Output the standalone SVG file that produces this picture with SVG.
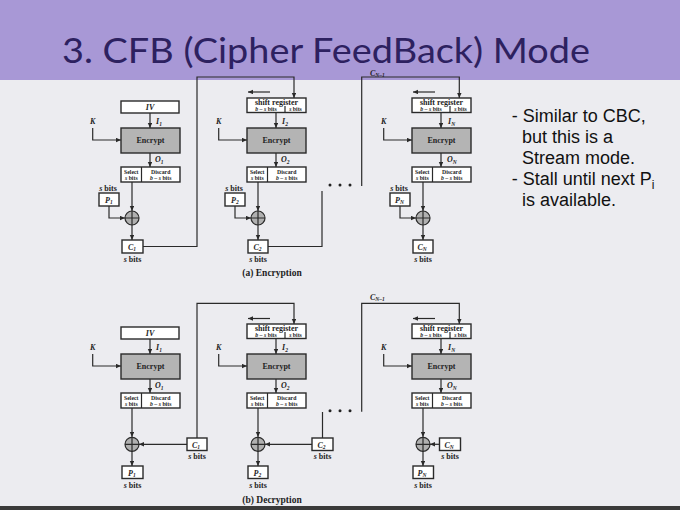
<svg xmlns="http://www.w3.org/2000/svg" width="680" height="510" viewBox="0 0 680 510">
<defs>
<marker id="ah" markerUnits="userSpaceOnUse" markerWidth="6" markerHeight="6" refX="5" refY="2.2" orient="auto"><path d="M0,0 L5,2.2 L0,4.4 z" fill="#2a2a2a"/></marker>
</defs>
<style>
.ln{stroke:#2a2a2a;stroke-width:1.2;fill:none}
.ar{stroke:#2a2a2a;stroke-width:1.2;fill:none;marker-end:url(#ah)}
.bx{fill:#fff;stroke:#2a2a2a;stroke-width:1.4}
.enc{fill:#b4b4b4;stroke:#2a2a2a;stroke-width:1.4}
.xor{fill:#b0b0b0;stroke:#2a2a2a;stroke-width:1.2}
.t{font-family:"Liberation Serif",serif;font-weight:bold;fill:#1e1e1e;text-anchor:middle}
.s8{font-size:8px}
.s6{font-size:5.8px}
.it{font-style:italic}
.lab{font-family:"Liberation Serif",serif;font-weight:bold;font-style:italic;fill:#1e1e1e;font-size:8px}
.sub{font-size:5.5px}
.cap{font-family:"Liberation Serif",serif;font-weight:bold;fill:#1e1e1e;font-size:9.5px;text-anchor:middle}
.rt{font-family:"Liberation Sans",Arial,sans-serif;font-size:18px;fill:#111}
.dot{fill:#222}
</style>
<rect x="0" y="0" width="680" height="80" fill="#a898d6"/>
<rect x="0" y="80" width="680" height="430" fill="#ececf0"/>
<rect x="0" y="506" width="680" height="4" fill="#3a3a3a"/>
<text x="62" y="63" font-family="Lato,'Open Sans',sans-serif" font-size="35" fill="#2d2160" textLength="528" lengthAdjust="spacingAndGlyphs">3. CFB (Cipher FeedBack) Mode</text>

<g id="connectors">
<!-- Encryption -->
<path class="ar" d="M150,113 V128"/>
<path class="ar" d="M92.7,128 V140 H121"/>
<path class="ar" d="M150,153 V167"/>
<path class="ar" d="M132,182 V211"/>
<path class="ar" d="M109,206 V218 H125"/>
<path class="ar" d="M132,225 V240"/>
<path class="ar" d="M143,246.5 H197 V77 H294 V98"/>
<path class="ar" d="M270,92 H248"/>
<path class="ar" d="M276,112.5 V128"/>
<path class="ar" d="M218.7,128 V140 H247"/>
<path class="ar" d="M276,153 V167"/>
<path class="ar" d="M258,182 V211"/>
<path class="ar" d="M235,206 V218 H251"/>
<path class="ar" d="M258,225 V240"/>
<path class="ln" d="M268,246.5 H322 V191"/>
<path class="ar" d="M361.7,186 V77 H459.3 V98"/>
<path class="ar" d="M435,92 H413"/>
<path class="ar" d="M441,112.5 V128"/>
<path class="ar" d="M383.7,128 V140 H412"/>
<path class="ar" d="M441,153 V167"/>
<path class="ar" d="M423,182 V211"/>
<path class="ar" d="M400,206 V218 H416"/>
<path class="ar" d="M423,225 V240"/>
<!-- Decryption -->
<path class="ar" d="M150,339 V354"/>
<path class="ar" d="M92.7,354 V366 H121"/>
<path class="ar" d="M150,379 V393"/>
<path class="ar" d="M132,408 V437"/>
<path class="ar" d="M187,444.3 H139"/>
<path class="ar" d="M132,451 V466"/>
<path class="ar" d="M197,438 V303.3 H294 V324"/>
<path class="ar" d="M270,318.5 H248"/>
<path class="ar" d="M276,338.5 V354"/>
<path class="ar" d="M218.7,354 V366 H247"/>
<path class="ar" d="M276,379 V393"/>
<path class="ar" d="M258,408 V437"/>
<path class="ar" d="M312,444.3 H265"/>
<path class="ar" d="M258,451 V466"/>
<path class="ln" d="M322.5,438 V412"/>
<path class="ar" d="M361.7,411.7 V303.3 H459.3 V324"/>
<path class="ar" d="M435,318.5 H413"/>
<path class="ar" d="M441,338.5 V354"/>
<path class="ar" d="M383.7,354 V366 H412"/>
<path class="ar" d="M441,379 V393"/>
<path class="ar" d="M423,408 V437"/>
<path class="ar" d="M439.5,444.3 H430"/>
<path class="ar" d="M423,451 V466"/>
</g>

<!-- dots -->
<g id="dots-enc"><circle class="dot" cx="330" cy="185" r="1.5"/><circle class="dot" cx="340" cy="185" r="1.5"/><circle class="dot" cx="350" cy="185" r="1.5"/></g>
<g id="dots-dec"><circle class="dot" cx="330" cy="410.7" r="1.5"/><circle class="dot" cx="340" cy="410.7" r="1.5"/><circle class="dot" cx="350" cy="410.7" r="1.5"/></g>

<!-- ===== Encryption ===== -->
<g id="e-iv"><rect class="bx" x="121" y="101" width="58" height="12"/><text class="t s8 it" x="150" y="110">IV</text></g>
<g id="e-k1"><text class="lab" x="92.7" y="124" text-anchor="middle">K</text></g>
<g id="e-i1"><text class="lab" x="156" y="124">I<tspan class="sub" dy="1.5">1</tspan></text></g>
<g id="e-enc1"><rect class="enc" x="121" y="128" width="59" height="25"/><text class="t s8" x="150.5" y="143">Encrypt</text></g>
<g id="e-o1"><text class="lab" x="155" y="162">O<tspan class="sub" dy="1.5">1</tspan></text></g>
<g id="e-sel1"><rect class="bx" x="121" y="167" width="59" height="15"/><line class="ln" x1="141.5" y1="167" x2="141.5" y2="182"/>
<text class="t s6" x="131.3" y="173.5">Select</text><text class="t s6" x="131.3" y="180"><tspan class="it">s</tspan> bits</text>
<text class="t s6" x="160.7" y="173.5">Discard</text><text class="t s6" x="160.7" y="180"><tspan class="it">b</tspan> – <tspan class="it">s</tspan> bits</text></g>
<g id="e-p1"><text class="t s8" x="108" y="190.5"><tspan class="it">s</tspan> bits</text><rect class="bx" x="99" y="193" width="20" height="13"/><text class="lab" x="105" y="202.5">P<tspan class="sub" dy="1.5">1</tspan></text></g>
<g id="e-x1"><circle class="xor" cx="132" cy="218" r="7"/><path class="ln" d="M125,218 H139 M132,211 V225"/></g>
<g id="e-c1"><rect class="bx" x="122" y="240" width="21" height="13"/><text class="lab" x="128" y="249.5">C<tspan class="sub" dy="1.5">1</tspan></text><text class="t s8" x="132.5" y="262"><tspan class="it">s</tspan> bits</text></g>

<g id="e-sr2"><rect class="bx" x="247" y="98" width="59" height="14.5"/><line class="ln" x1="285" y1="106" x2="285" y2="112.5"/>
<text class="t s8" x="276.5" y="104.8">shift register</text><text class="t s6" x="266" y="111.3"><tspan class="it">b</tspan> – <tspan class="it">s</tspan> bits</text><text class="t s6" x="295.5" y="111.3"><tspan class="it">s</tspan> bits</text></g>
<g id="e-k2"><text class="lab" x="218.7" y="124" text-anchor="middle">K</text></g>
<g id="e-i2"><text class="lab" x="282" y="124">I<tspan class="sub" dy="1.5">2</tspan></text></g>
<g id="e-enc2"><rect class="enc" x="247" y="128" width="59" height="25"/><text class="t s8" x="276.5" y="143">Encrypt</text></g>
<g id="e-o2"><text class="lab" x="281" y="162">O<tspan class="sub" dy="1.5">2</tspan></text></g>
<g id="e-sel2"><rect class="bx" x="247" y="167" width="59" height="15"/><line class="ln" x1="267.5" y1="167" x2="267.5" y2="182"/>
<text class="t s6" x="257.3" y="173.5">Select</text><text class="t s6" x="257.3" y="180"><tspan class="it">s</tspan> bits</text>
<text class="t s6" x="286.7" y="173.5">Discard</text><text class="t s6" x="286.7" y="180"><tspan class="it">b</tspan> – <tspan class="it">s</tspan> bits</text></g>
<g id="e-p2"><text class="t s8" x="234" y="190.5"><tspan class="it">s</tspan> bits</text><rect class="bx" x="225" y="193" width="20" height="13"/><text class="lab" x="231" y="202.5">P<tspan class="sub" dy="1.5">2</tspan></text></g>
<g id="e-x2"><circle class="xor" cx="258" cy="218" r="7"/><path class="ln" d="M251,218 H265 M258,211 V225"/></g>
<g id="e-c2"><rect class="bx" x="248" y="240" width="20" height="13"/><text class="lab" x="253.5" y="249.5">C<tspan class="sub" dy="1.5">2</tspan></text><text class="t s8" x="258" y="262"><tspan class="it">s</tspan> bits</text></g>
<g id="e-cn1"><text class="lab" x="370" y="75.5" font-size="6.5">C<tspan class="sub" dy="1" font-size="4.5">N–1</tspan></text></g>

<g id="e-sr3"><rect class="bx" x="412" y="98" width="59" height="14.5"/><line class="ln" x1="450" y1="106" x2="450" y2="112.5"/>
<text class="t s8" x="441.5" y="104.8">shift register</text><text class="t s6" x="431" y="111.3"><tspan class="it">b</tspan> – <tspan class="it">s</tspan> bits</text><text class="t s6" x="460.5" y="111.3"><tspan class="it">s</tspan> bits</text></g>
<g id="e-k3"><text class="lab" x="383.7" y="124" text-anchor="middle">K</text></g>
<g id="e-in"><text class="lab" x="448" y="124">I<tspan class="sub" dy="1.5">N</tspan></text></g>
<g id="e-enc3"><rect class="enc" x="412" y="128" width="59" height="25"/><text class="t s8" x="441.5" y="143">Encrypt</text></g>
<g id="e-on"><text class="lab" x="447" y="162">O<tspan class="sub" dy="1.5">N</tspan></text></g>
<g id="e-sel3"><rect class="bx" x="412" y="167" width="59" height="15"/><line class="ln" x1="432.5" y1="167" x2="432.5" y2="182"/>
<text class="t s6" x="422.3" y="173.5">Select</text><text class="t s6" x="422.3" y="180"><tspan class="it">s</tspan> bits</text>
<text class="t s6" x="451.7" y="173.5">Discard</text><text class="t s6" x="451.7" y="180"><tspan class="it">b</tspan> – <tspan class="it">s</tspan> bits</text></g>
<g id="e-pn"><text class="t s8" x="399" y="190.5"><tspan class="it">s</tspan> bits</text><rect class="bx" x="390" y="193" width="20" height="13"/><text class="lab" x="395" y="202.5">P<tspan class="sub" dy="1.5">N</tspan></text></g>
<g id="e-x3"><circle class="xor" cx="423" cy="218" r="7"/><path class="ln" d="M416,218 H430 M423,211 V225"/></g>
<g id="e-cn"><rect class="bx" x="413" y="240" width="20" height="13"/><text class="lab" x="417.5" y="249.5">C<tspan class="sub" dy="1.5">N</tspan></text><text class="t s8" x="423" y="262"><tspan class="it">s</tspan> bits</text></g>
<g id="cap-a"><text class="cap" x="272" y="276">(a) Encryption</text></g>

<!-- ===== Decryption ===== -->
<g id="d-iv"><rect class="bx" x="121" y="327" width="58" height="12"/><text class="t s8 it" x="150" y="336">IV</text></g>
<g id="d-k1"><text class="lab" x="92.7" y="350" text-anchor="middle">K</text></g>
<g id="d-i1"><text class="lab" x="156" y="350">I<tspan class="sub" dy="1.5">1</tspan></text></g>
<g id="d-enc1"><rect class="enc" x="121" y="354" width="59" height="25"/><text class="t s8" x="150.5" y="369">Encrypt</text></g>
<g id="d-o1"><text class="lab" x="155" y="388">O<tspan class="sub" dy="1.5">1</tspan></text></g>
<g id="d-sel1"><rect class="bx" x="121" y="393" width="59" height="15"/><line class="ln" x1="141.5" y1="393" x2="141.5" y2="408"/>
<text class="t s6" x="131.3" y="399.5">Select</text><text class="t s6" x="131.3" y="406"><tspan class="it">s</tspan> bits</text>
<text class="t s6" x="160.7" y="399.5">Discard</text><text class="t s6" x="160.7" y="406"><tspan class="it">b</tspan> – <tspan class="it">s</tspan> bits</text></g>
<g id="d-x1"><circle class="xor" cx="132" cy="444.3" r="7"/><path class="ln" d="M125,444.3 H139 M132,437.3 V451.3"/></g>
<g id="d-c1"><rect class="bx" x="187" y="438" width="20" height="12.5"/><text class="lab" x="192" y="447.5">C<tspan class="sub" dy="1.5">1</tspan></text><text class="t s8" x="197" y="459"><tspan class="it">s</tspan> bits</text></g>
<g id="d-p1"><rect class="bx" x="122" y="466" width="21" height="12.5"/><text class="lab" x="128" y="475.5">P<tspan class="sub" dy="1.5">1</tspan></text><text class="t s8" x="132.5" y="488"><tspan class="it">s</tspan> bits</text></g>

<g id="d-sr2"><rect class="bx" x="247" y="324" width="59" height="14.5"/><line class="ln" x1="285" y1="332" x2="285" y2="338.5"/>
<text class="t s8" x="276.5" y="330.8">shift register</text><text class="t s6" x="266" y="337.3"><tspan class="it">b</tspan> – <tspan class="it">s</tspan> bits</text><text class="t s6" x="295.5" y="337.3"><tspan class="it">s</tspan> bits</text></g>
<g id="d-k2"><text class="lab" x="218.7" y="350" text-anchor="middle">K</text></g>
<g id="d-i2"><text class="lab" x="282" y="350">I<tspan class="sub" dy="1.5">2</tspan></text></g>
<g id="d-enc2"><rect class="enc" x="247" y="354" width="59" height="25"/><text class="t s8" x="276.5" y="369">Encrypt</text></g>
<g id="d-o2"><text class="lab" x="281" y="388">O<tspan class="sub" dy="1.5">2</tspan></text></g>
<g id="d-sel2"><rect class="bx" x="247" y="393" width="59" height="15"/><line class="ln" x1="267.5" y1="393" x2="267.5" y2="408"/>
<text class="t s6" x="257.3" y="399.5">Select</text><text class="t s6" x="257.3" y="406"><tspan class="it">s</tspan> bits</text>
<text class="t s6" x="286.7" y="399.5">Discard</text><text class="t s6" x="286.7" y="406"><tspan class="it">b</tspan> – <tspan class="it">s</tspan> bits</text></g>
<g id="d-x2"><circle class="xor" cx="258" cy="444.3" r="7"/><path class="ln" d="M251,444.3 H265 M258,437.3 V451.3"/></g>
<g id="d-c2"><rect class="bx" x="312" y="438" width="21" height="12.5"/><text class="lab" x="317.5" y="447.5">C<tspan class="sub" dy="1.5">2</tspan></text><text class="t s8" x="322.5" y="459"><tspan class="it">s</tspan> bits</text></g>
<g id="d-p2"><rect class="bx" x="248" y="466" width="20" height="12.5"/><text class="lab" x="253.5" y="475.5">P<tspan class="sub" dy="1.5">2</tspan></text><text class="t s8" x="258" y="488"><tspan class="it">s</tspan> bits</text></g>
<g id="d-cn1"><text class="lab" x="370" y="300" font-size="6.5">C<tspan class="sub" dy="1" font-size="4.5">N–1</tspan></text></g>

<g id="d-sr3"><rect class="bx" x="412" y="324" width="59" height="14.5"/><line class="ln" x1="450" y1="332" x2="450" y2="338.5"/>
<text class="t s8" x="441.5" y="330.8">shift register</text><text class="t s6" x="431" y="337.3"><tspan class="it">b</tspan> – <tspan class="it">s</tspan> bits</text><text class="t s6" x="460.5" y="337.3"><tspan class="it">s</tspan> bits</text></g>
<g id="d-k3"><text class="lab" x="383.7" y="350" text-anchor="middle">K</text></g>
<g id="d-in"><text class="lab" x="448" y="350">I<tspan class="sub" dy="1.5">N</tspan></text></g>
<g id="d-enc3"><rect class="enc" x="412" y="354" width="59" height="25"/><text class="t s8" x="441.5" y="369">Encrypt</text></g>
<g id="d-on"><text class="lab" x="447" y="388">O<tspan class="sub" dy="1.5">N</tspan></text></g>
<g id="d-sel3"><rect class="bx" x="412" y="393" width="59" height="15"/><line class="ln" x1="432.5" y1="393" x2="432.5" y2="408"/>
<text class="t s6" x="422.3" y="399.5">Select</text><text class="t s6" x="422.3" y="406"><tspan class="it">s</tspan> bits</text>
<text class="t s6" x="451.7" y="399.5">Discard</text><text class="t s6" x="451.7" y="406"><tspan class="it">b</tspan> – <tspan class="it">s</tspan> bits</text></g>
<g id="d-x3"><circle class="xor" cx="423" cy="444.3" r="7"/><path class="ln" d="M416,444.3 H430 M423,437.3 V451.3"/></g>
<g id="d-cn"><rect class="bx" x="439.5" y="438" width="21" height="12.5"/><text class="lab" x="444.5" y="447.5">C<tspan class="sub" dy="1.5">N</tspan></text><text class="t s8" x="450" y="459"><tspan class="it">s</tspan> bits</text></g>
<g id="d-pn"><rect class="bx" x="413" y="466" width="20.5" height="12.5"/><text class="lab" x="417.5" y="475.5">P<tspan class="sub" dy="1.5">N</tspan></text><text class="t s8" x="423" y="488"><tspan class="it">s</tspan> bits</text></g>
<g id="cap-b"><text class="cap" x="272" y="503">(b) Decryption</text></g>

<g id="notes">
<text class="rt" x="511.7" y="122">- Similar to CBC,</text>
<text class="rt" x="522" y="143">but this is a</text>
<text class="rt" x="522" y="164">Stream mode.</text>
<text class="rt" x="511.7" y="185">- Stall until next P<tspan font-size="12" dy="4">i</tspan></text>
<text class="rt" x="522" y="206">is available.</text>
</g>
</svg>
